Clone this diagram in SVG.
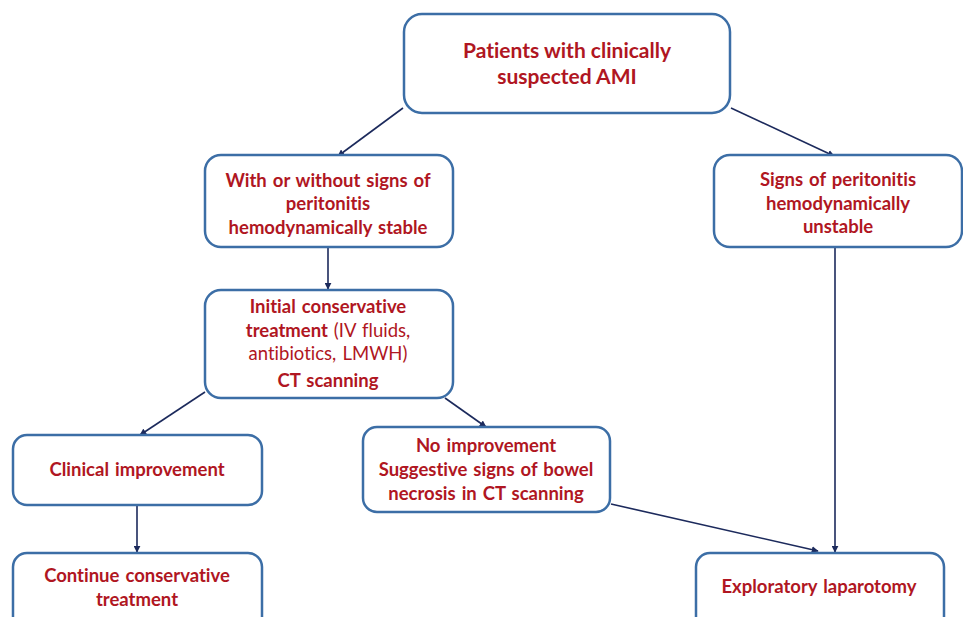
<svg xmlns="http://www.w3.org/2000/svg" width="963" height="617" viewBox="0 0 963 617">
<defs>
<marker id="ah" viewBox="0 0 10 10" refX="9" refY="5" markerWidth="7" markerHeight="7" orient="auto" markerUnits="userSpaceOnUse">
<path d="M0,0 L10,5 L0,10 z" fill="#1c2a5c"/>
</marker>
<style>
.box{fill:#ffffff;stroke:#3c6ea6;stroke-width:2.5}
.t{font-family:Lato,"Liberation Sans",sans-serif;font-weight:bold;font-size:18.5px;word-spacing:1.5px;fill:#b01622;text-anchor:middle;font-variant-ligatures:none}
.big{font-size:21px;word-spacing:0}
.n{font-weight:normal}
.c{stroke:#1c2a5c;stroke-width:1.6;fill:none;marker-end:url(#ah)}
</style>
</defs>
<rect width="963" height="617" fill="#ffffff"/>
<g id="connectors">
<line class="c" x1="403" y1="108" x2="338" y2="156"/>
<line class="c" x1="731" y1="108" x2="834" y2="156"/>
<line class="c" x1="328" y1="248" x2="328" y2="289"/>
<line class="c" x1="835" y1="248" x2="835" y2="552"/>
<line class="c" x1="205" y1="392" x2="140" y2="435"/>
<line class="c" x1="445" y1="398" x2="486" y2="427"/>
<line class="c" x1="137" y1="506" x2="137" y2="552"/>
<line class="c" x1="611" y1="504" x2="818" y2="551"/>
</g>
<g id="n1">
<rect class="box" x="404" y="14" width="326" height="99" rx="18"/>
<text class="t big" x="567" y="58">Patients with clinically</text>
<text class="t big" x="567" y="84">suspected AMI</text>
</g>
<g id="n2">
<rect class="box" x="205" y="155" width="248" height="92" rx="16"/>
<text class="t" x="328" y="187">With or without signs of</text>
<text class="t" x="328" y="210">peritonitis</text>
<text class="t" x="328" y="234">hemodynamically stable</text>
</g>
<g id="n3">
<rect class="box" x="714" y="155" width="248" height="92" rx="16"/>
<text class="t" x="838" y="186">Signs of peritonitis</text>
<text class="t" x="838" y="210">hemodynamically</text>
<text class="t" x="838" y="233">unstable</text>
</g>
<g id="n4">
<rect class="box" x="205" y="290" width="248" height="108" rx="16"/>
<text class="t" x="328" y="313">Initial conservative</text>
<text class="t" x="328" y="337">treatment <tspan class="n">(IV fluids,</tspan></text>
<text class="t n" x="328" y="360">antibiotics, LMWH)</text>
<text class="t" x="328" y="387">CT scanning</text>
</g>
<g id="n5">
<rect class="box" x="13" y="435" width="249" height="70" rx="14"/>
<text class="t" x="137" y="476">Clinical improvement</text>
</g>
<g id="n6">
<rect class="box" x="363" y="427" width="247" height="85" rx="14"/>
<text class="t" x="486" y="452">No improvement</text>
<text class="t" x="486" y="476">Suggestive signs of bowel</text>
<text class="t" x="486" y="500">necrosis in CT scanning</text>
</g>
<g id="n7">
<rect class="box" x="13" y="553" width="249" height="80" rx="14"/>
<text class="t" x="137" y="582">Continue conservative</text>
<text class="t" x="137" y="606">treatment</text>
</g>
<g id="n8">
<rect class="box" x="696" y="553" width="248" height="80" rx="14"/>
<text class="t" x="819" y="593">Exploratory laparotomy</text>
</g>
</svg>
